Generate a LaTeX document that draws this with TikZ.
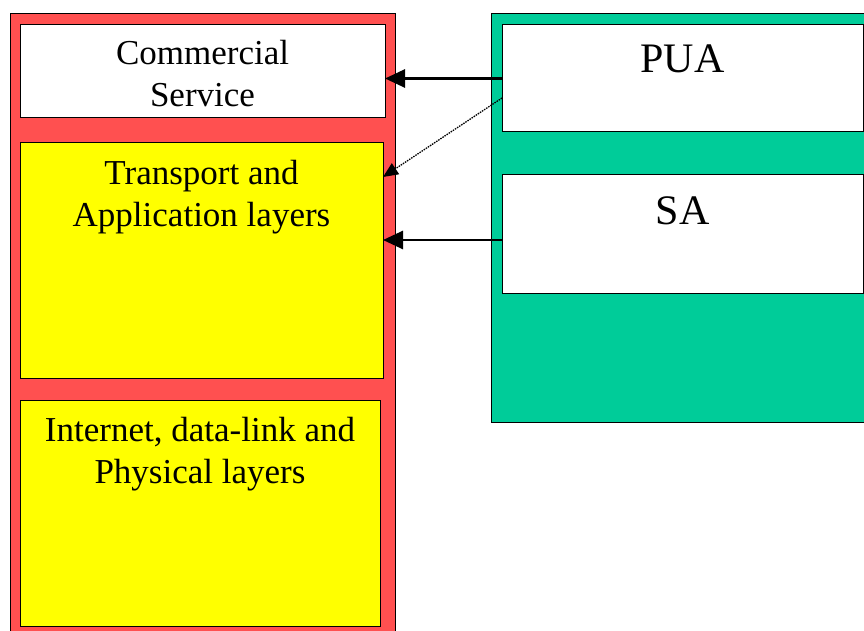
\documentclass[tikz,border=0pt]{standalone}
\usepackage{fontspec}
\setmainfont{Liberation Serif}
\usetikzlibrary{arrows.meta}
\definecolor{salmonred}{HTML}{FF5050}
\definecolor{seagreen}{HTML}{00CC99}
\definecolor{layeryellow}{HTML}{FFFF00}

\begin{document}
\begin{tikzpicture}[x=1pt,y=-1pt]
			\tikzstyle{box} = [draw=black,line width=1pt,inner sep=0pt,outer sep=0pt,anchor=north west]
			\tikzstyle{boxtext} = [align=center,anchor=base,inner sep=0pt,font=\fontsize{35}{42}\selectfont]
			\tikzstyle{agenttext} = [boxtext,font=\fontsize{42}{50}\selectfont]
			\tikzstyle{edge} = [-{Triangle[length=20pt,width=18pt]},line width=2.7pt]
			\tikzstyle{edge2} = [-{Triangle[length=15pt,width=13pt]},line width=1.3pt,dash pattern=on 1.5pt off 1pt]
			\useasboundingbox (0,0) rectangle (864,631);
			\clip (0,0) rectangle (864,631);
			\node[box,fill=salmonred,minimum width=385pt,minimum height=630pt] (host) at (10,14) {};
			\node[box,fill=white,minimum width=365pt,minimum height=93pt] (cs) at (20,25) {};
			\node[box,fill=layeryellow,minimum width=363pt,minimum height=235pt] (tl) at (20,143) {};
			\node[box,fill=layeryellow,minimum width=360pt,minimum height=226pt] (phys) at (20,400) {};
			\node[box,fill=seagreen,minimum width=400pt,minimum height=408pt] (agent) at (491,14) {};
			\node[box,fill=white,minimum width=361pt,minimum height=107pt] (pua) at (502,25) {};
			\node[box,fill=white,minimum width=361pt,minimum height=118pt] (sa) at (502,175) {};
			\node[boxtext] (cstext) at ([yshift=-82pt]cs.north) {Commercial\\Service};
			\node[boxtext] (tltext) at ([yshift=-83pt]tl.north) {Transport and\\Application layers};
			\node[boxtext] (phystext) at ([yshift=-83pt]phys.north) {Internet, data-link and\\Physical layers};
			\node[agenttext] (puatext) at ([yshift=-48pt]pua.north) {PUA};
			\node[agenttext] (satext) at ([yshift=-49pt]sa.north) {SA};
			\draw[edge] (pua.west) -- (pua.west -| cs.east);
			\draw[edge2] ([yshift=-19.5pt]pua.west) -- ([yshift=-34pt]tl.north east);
			\draw[edge] ([yshift=-6pt]sa.west) -- ([yshift=-6pt]sa.west -| tl.east);
\end{tikzpicture}
\end{document}
